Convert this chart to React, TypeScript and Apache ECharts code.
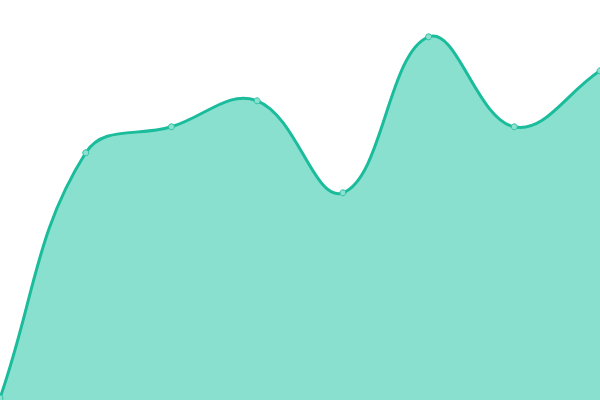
import { useEffect, useRef } from "react";
import * as echarts from "echarts";

const categories = ["A", "B", "C", "D", "E", "F", "G", "H"];
const values = [0.5, 61.8, 68.3, 74.8, 51.8, 90.8, 68.3, 82.3];

const TENSION = 0.4;

// cardinal-style spline control points, computed in pixel space
function controlPoints(pts: number[][]) {
  return pts.map((cur, i) => {
    const prev = pts[i - 1] ?? cur;
    const next = pts[i + 1] ?? cur;
    const d01 = Math.hypot(cur[0] - prev[0], cur[1] - prev[1]);
    const d12 = Math.hypot(next[0] - cur[0], next[1] - cur[1]);
    const total = d01 + d12 || 1;
    const fa = (TENSION * d01) / total;
    const fb = (TENSION * d12) / total;
    return {
      before: [cur[0] - fa * (next[0] - prev[0]), cur[1] - fa * (next[1] - prev[1])],
      after: [cur[0] + fb * (next[0] - prev[0]), cur[1] + fb * (next[1] - prev[1])],
    };
  });
}

const App = () => {
  const chartRef = useRef<HTMLDivElement>(null);

  useEffect(() => {
    if (!chartRef.current) return;
    document.body.style.margin = "0";
    const chart = echarts.init(chartRef.current, undefined, { renderer: "svg" });
    chart.setOption({
      animation: false,
      grid: { left: 0, right: 0, top: 0, bottom: 0 },
      xAxis: {
        type: "category",
        data: categories,
        boundaryGap: false,
        show: false,
      },
      yAxis: { type: "value", min: 0, max: 100, show: false },
      series: [
        {
          type: "custom",
          clip: false,
          data: values.map((v, i) => [i, v]),
          encode: { x: 0, y: 1 },
          renderItem: (params: any, api: any) => {
            if (params.dataIndex !== 0) return null;
            const pts = values.map((v, i) => api.coord([i, v]));
            const cps = controlPoints(pts);
            let line = `M${pts[0][0]},${pts[0][1]}`;
            for (let i = 1; i < pts.length; i++) {
              const a = cps[i - 1].after;
              const b = cps[i].before;
              line += ` C${a[0]},${a[1]} ${b[0]},${b[1]} ${pts[i][0]},${pts[i][1]}`;
            }
            const base = api.coord([0, 0])[1];
            const last = pts[pts.length - 1];
            const area = `${line} L${last[0]},${base} L${pts[0][0]},${base} Z`;
            return {
              type: "group",
              children: [
                { type: "path", shape: { pathData: area }, style: { fill: "#89e0cf" } },
                {
                  type: "path",
                  shape: { pathData: line },
                  style: { fill: "none", stroke: "#1abc9c", lineWidth: 3 },
                },
                ...pts.map((p) => ({
                  type: "circle",
                  shape: { cx: p[0], cy: p[1], r: 3 },
                  style: { fill: "#8ce0cf", stroke: "#2cc2a4", lineWidth: 1 },
                })),
              ],
            };
          },
        },
      ],
    });
    return () => {
      chart.dispose();
    };
  }, []);

  return <div ref={chartRef} style={{ width: 600, height: 400 }} />;
};

export default App;
